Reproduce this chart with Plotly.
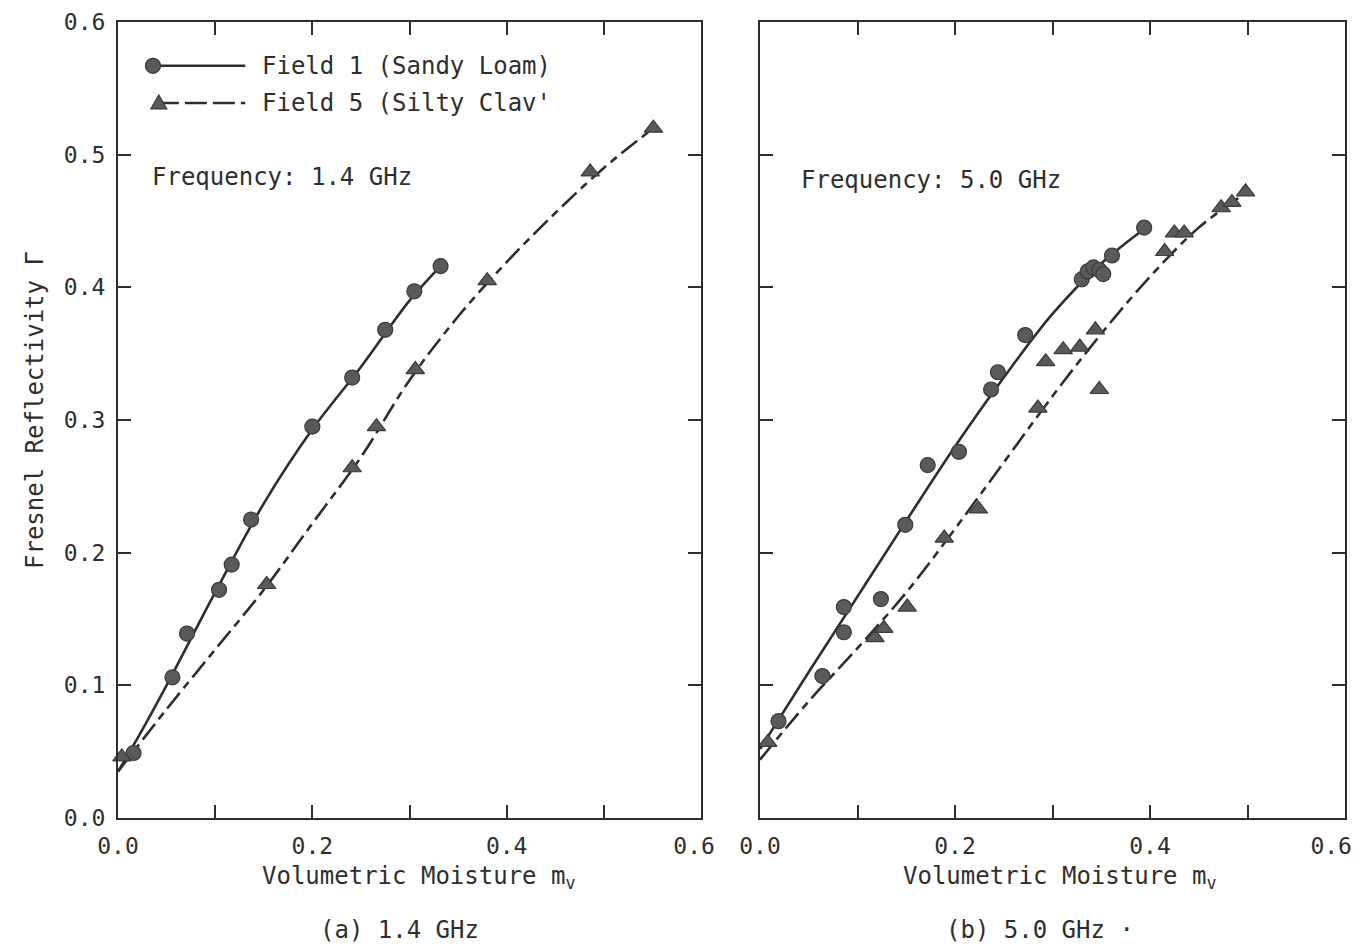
import plotly.graph_objects as go

# ---------------- data ----------------
# (a) 1.4 GHz
a_f1_x = [0.016, 0.056, 0.071, 0.104, 0.117, 0.137, 0.200, 0.241, 0.275, 0.305, 0.332]
a_f1_y = [0.049, 0.106, 0.139, 0.172, 0.191, 0.225, 0.295, 0.332, 0.368, 0.397, 0.416]
a_f5_x = [0.004, 0.153, 0.241, 0.266, 0.306, 0.380, 0.486, 0.551]
a_f5_y = [0.046, 0.176, 0.264, 0.295, 0.338, 0.405, 0.487, 0.520]
a_f1_fit_x = [0.0, 0.02, 0.05, 0.10, 0.15, 0.20, 0.25, 0.30, 0.332]
a_f1_fit_y = [0.035, 0.060, 0.100, 0.170, 0.237, 0.293, 0.340, 0.390, 0.416]
a_f5_fit_x = [0.0, 0.05, 0.10, 0.15, 0.20, 0.25, 0.30, 0.35, 0.40, 0.45, 0.50, 0.551]
a_f5_fit_y = [0.035, 0.082, 0.127, 0.172, 0.222, 0.272, 0.330, 0.378, 0.419, 0.456, 0.490, 0.520]

# (b) 5.0 GHz
b_f1_x = [0.019, 0.064, 0.086, 0.086, 0.124, 0.149, 0.172, 0.204, 0.237, 0.244, 0.272,
          0.330, 0.336, 0.342, 0.348, 0.352, 0.361, 0.394]
b_f1_y = [0.073, 0.107, 0.140, 0.159, 0.165, 0.221, 0.266, 0.276, 0.323, 0.336, 0.364,
          0.406, 0.412, 0.415, 0.413, 0.410, 0.424, 0.445]
b_f5_x = [0.008, 0.118, 0.127, 0.151, 0.189, 0.224, 0.285, 0.293, 0.311, 0.328, 0.344,
          0.348, 0.415, 0.425, 0.435, 0.473, 0.484, 0.498]
b_f5_y = [0.057, 0.136, 0.143, 0.159, 0.211, 0.233, 0.309, 0.344, 0.353, 0.355, 0.368,
          0.323, 0.427, 0.441, 0.441, 0.460, 0.464, 0.472]
b_f1_fit_x = [0.0, 0.05, 0.10, 0.15, 0.20, 0.25, 0.30, 0.35, 0.394]
b_f1_fit_y = [0.052, 0.110, 0.167, 0.224, 0.280, 0.332, 0.380, 0.418, 0.444]
b_f5_fit_x = [0.0, 0.05, 0.10, 0.15, 0.20, 0.25, 0.30, 0.35, 0.40, 0.45, 0.50]
b_f5_fit_y = [0.044, 0.088, 0.128, 0.170, 0.218, 0.268, 0.318, 0.365, 0.408, 0.445, 0.472]

NB = "\u00a0"
x_tickvals = [0.0, 0.1, 0.2, 0.3, 0.4, 0.5, 0.6]
x_ticktext_a = ["0.0", " ", "0.2", " ", "0.4", " ", "0.6" + NB]
x_ticktext_b = ["0.0", " ", "0.2", " ", "0.4", " ", "0.6" + NB + NB]
y_tickvals = [0.0, 0.1, 0.2, 0.3, 0.4, 0.5, 0.6]
y_ticktext = ["0.0", "0.1", "0.2", "0.3", "0.4", "0.5", "0.6"]

series_names = ["Field 1 (Sandy Loam)", "Field 5 (Silty Clav'"]
freq_labels = ["Frequency: 1.4 GHz", "Frequency: 5.0 GHz"]
captions = ["(a) 1.4 GHz", "(b) 5.0 GHz \u00b7"]

# ---------------- style ----------------
INK = "#2e2e2e"
MARK = "#5a5a5a"
FONT = "DejaVu Sans Mono"
DASH = "20px,6px,8px,6px"

# page has an 8px body margin: figure starts at (8, 8) of the window
OFF = 8
W, H = 1367 - OFF, 947 - OFF


def px_x(p):
    return (p - OFF) / W


def px_y(p):
    return 1 - (p - OFF) / H


fig = go.Figure()


def add_panel(xa, ya, fx1, fy1, fx5, fy5, px1, py1, px5, py5):
    fig.add_trace(go.Scatter(x=fx1, y=fy1, mode="lines", xaxis=xa, yaxis=ya,
                             line=dict(color=INK, width=2.6, shape="spline"),
                             showlegend=False, hoverinfo="skip"))
    fig.add_trace(go.Scatter(x=fx5, y=fy5, mode="lines", xaxis=xa, yaxis=ya,
                             line=dict(color=INK, width=2.6, dash=DASH, shape="spline"),
                             showlegend=False, hoverinfo="skip"))
    fig.add_trace(go.Scatter(x=px1, y=py1, mode="markers", xaxis=xa, yaxis=ya,
                             marker=dict(symbol="circle", size=15, color=MARK,
                                         line=dict(color="#3a3a3a", width=1.2)),
                             cliponaxis=False, showlegend=False))
    fig.add_trace(go.Scatter(x=px5, y=py5, mode="markers", xaxis=xa, yaxis=ya,
                             marker=dict(symbol="triangle-up", size=16, color=MARK,
                                         line=dict(color="#3a3a3a", width=1.2)),
                             cliponaxis=False, showlegend=False))


add_panel("x", "y", a_f1_fit_x, a_f1_fit_y, a_f5_fit_x, a_f5_fit_y,
          a_f1_x, a_f1_y, a_f5_x, a_f5_y)
add_panel("x2", "y2", b_f1_fit_x, b_f1_fit_y, b_f5_fit_x, b_f5_fit_y,
          b_f1_x, b_f1_y, b_f5_x, b_f5_y)

yd = [px_y(818), px_y(22)]

axis_common = dict(range=[0, 0.6], showline=True, mirror="ticks", linecolor=INK,
                   linewidth=2, ticks="inside", ticklen=13, tickwidth=2, tickcolor=INK,
                   showgrid=False, zeroline=False, automargin=False,
                   ticklabeloverflow="allow",
                   tickfont=dict(family=FONT, size=23, color=INK))

fig.update_layout(
    width=W, height=H,
    margin=dict(l=0, r=0, t=0, b=0, autoexpand=False),
    paper_bgcolor="white", plot_bgcolor="white",
    xaxis=dict(domain=[px_x(118), px_x(701)], anchor="y", tickvals=x_tickvals,
               ticktext=x_ticktext_a, ticklabelstandoff=6, **axis_common),
    yaxis=dict(domain=yd, anchor="x", tickvals=y_tickvals, ticktext=y_ticktext,
               ticklabelstandoff=6, **axis_common),
    xaxis2=dict(domain=[px_x(760), px_x(1345)], anchor="y2", tickvals=x_tickvals,
                ticktext=x_ticktext_b, ticklabelstandoff=6, **axis_common),
    yaxis2=dict(domain=yd, anchor="x2", tickvals=y_tickvals, showticklabels=False,
                **axis_common),
    showlegend=False,
)

txt = dict(family=FONT, size=24, color=INK)
ann = []
# axis titles
ann.append(dict(text="Volumetric Moisture m<sub>v</sub>", x=px_x(419), y=px_y(877),
                xref="paper", yref="paper", showarrow=False, font=txt,
                xanchor="center", yanchor="middle"))
ann.append(dict(text="Volumetric Moisture m<sub>v</sub>", x=px_x(1060), y=px_y(877),
                xref="paper", yref="paper", showarrow=False, font=txt,
                xanchor="center", yanchor="middle"))
ann.append(dict(text="Fresnel Reflectivity \u0393", x=px_x(35), y=px_y(410),
                xref="paper", yref="paper", showarrow=False, font=txt, textangle=-90,
                xanchor="center", yanchor="middle"))
# captions
ann.append(dict(text=captions[0], x=px_x(399), y=px_y(930), xref="paper", yref="paper",
                showarrow=False, font=txt, xanchor="center", yanchor="middle"))
ann.append(dict(text=captions[1], x=px_x(1040), y=px_y(930), xref="paper", yref="paper",
                showarrow=False, font=txt, xanchor="center", yanchor="middle"))
# frequency labels
ann.append(dict(text=freq_labels[0], x=0.033, y=0.483, xref="x", yref="y",
                showarrow=False, font=txt, xanchor="left", yanchor="middle"))
ann.append(dict(text=freq_labels[1], x=0.040, y=0.481, xref="x2", yref="y2",
                showarrow=False, font=txt, xanchor="left", yanchor="middle"))
# legend texts
ann.append(dict(text=series_names[0], x=0.146, y=0.567, xref="x", yref="y",
                showarrow=False, font=txt, xanchor="left", yanchor="middle"))
ann.append(dict(text=series_names[1], x=0.146, y=0.539, xref="x", yref="y",
                showarrow=False, font=txt, xanchor="left", yanchor="middle"))
fig.update_layout(annotations=ann)

# legend samples (decoration)
shapes = [
    dict(type="line", xref="x", yref="y", x0=0.033, x1=0.131, y0=0.567, y1=0.567,
         line=dict(color=INK, width=2.6)),
    dict(type="circle", xref="x", yref="y", xsizemode="pixel", ysizemode="pixel",
         xanchor=0.036, yanchor=0.567, x0=-7.5, x1=7.5, y0=-7.5, y1=7.5,
         fillcolor=MARK, line=dict(color="#3a3a3a", width=1.2)),
    dict(type="line", xref="x", yref="y", x0=0.040, x1=0.131, y0=0.539, y1=0.539,
         line=dict(color=INK, width=2.6, dash="22px,6px")),
    dict(type="path", xref="x", yref="y", xsizemode="pixel", ysizemode="pixel",
         xanchor=0.042, yanchor=0.539, path="M -8,-6 L 8,-6 L 0,8 Z",
         fillcolor=MARK, line=dict(color="#3a3a3a", width=1.2)),
]
fig.update_layout(shapes=shapes)

fig.write_html("out.html")
